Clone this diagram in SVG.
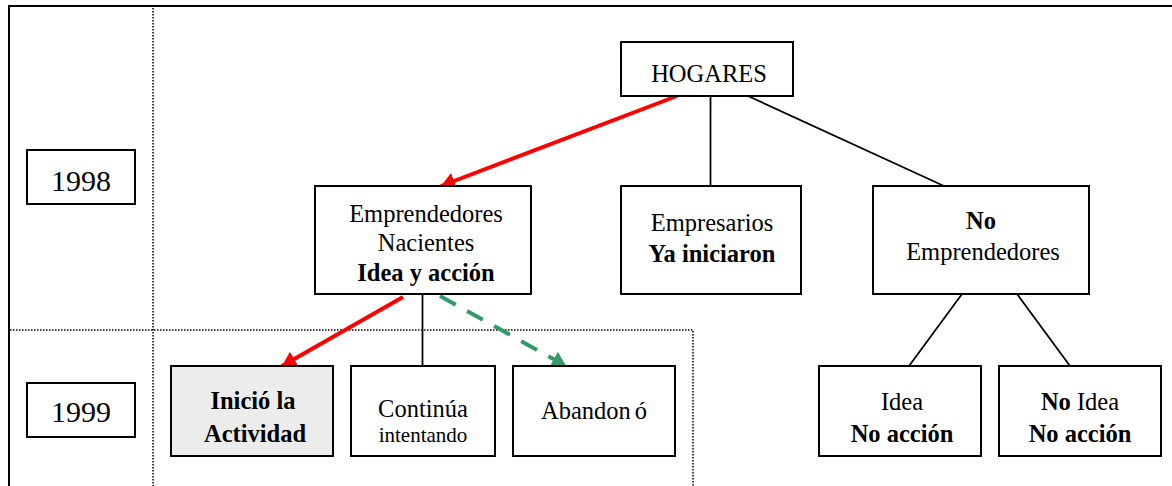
<svg xmlns="http://www.w3.org/2000/svg" width="1172" height="486" viewBox="0 0 1172 486">
<defs>
<style>
.box{fill:#fff;stroke:#000;stroke-width:2}
text{font-family:'Liberation Serif','Times New Roman',serif;font-size:24.5px;fill:#000;text-anchor:middle}
.b{font-weight:bold}
.yr{font-size:30px}
.sm{font-size:21px}
.dot{fill:none;stroke:#000;stroke-width:1.5;stroke-dasharray:1.5 1.5}
.ln{fill:none;stroke:#000;stroke-width:1.8}
</style>
<marker id="ar" viewBox="0 0 10 10" refX="10" refY="5" markerWidth="14" markerHeight="17" orient="auto" markerUnits="userSpaceOnUse" preserveAspectRatio="none"><path d="M0,0 L10,5 L0,10 z" fill="#ff0000"/></marker>
<marker id="ag" viewBox="0 0 10 10" refX="10" refY="5" markerWidth="14" markerHeight="17" orient="auto" markerUnits="userSpaceOnUse" preserveAspectRatio="none"><path d="M0,0 L10,5 L0,10 z" fill="#339966"/></marker>
</defs>
<rect width="1172" height="486" fill="#fff"/>
<g id="frame">
<path d="M8,6 H1172 M9,6 V486" fill="none" stroke="#000" stroke-width="2"/>
<path class="dot" d="M153,8 V486 M10,330 H693 V486"/>
</g>
<g id="connectors">
<path class="ln" d="M710.5,96 V186 M748,96 L944,186 M962,294 L909,366 M1017,294 L1070,366 M422.5,294 V366"/>
<path d="M677,96 L441,186" fill="none" stroke="#ff0000" stroke-width="4" marker-end="url(#ar)"/>
<path d="M403,297 L282,366" fill="none" stroke="#ff0000" stroke-width="4" marker-end="url(#ar)"/>
<path d="M440,296 L566,366" fill="none" stroke="#339966" stroke-width="4" stroke-dasharray="18 13" marker-end="url(#ag)"/>
</g>
<g id="y1998"><rect class="box" x="27" y="150" width="108" height="54"/><text class="yr" x="81" y="191">1998</text></g>
<g id="y1999"><rect class="box" x="27" y="383" width="108" height="54"/><text class="yr" x="81" y="422">1999</text></g>
<g id="hogares"><rect class="box" x="621" y="42" width="172" height="54"/><text x="709" y="82">HOGARES</text></g>
<g id="nacientes"><rect class="box" x="315" y="186" width="216" height="108"/><text x="426" y="222">Emprendedores</text><text x="426" y="251">Nacientes</text><text class="b" x="426" y="281">Idea y acción</text></g>
<g id="empresarios"><rect class="box" x="621" y="186" width="180" height="108"/><text x="712" y="231">Empresarios</text><text class="b" x="712" y="262">Ya iniciaron</text></g>
<g id="noemprendedores"><rect class="box" x="873" y="186" width="216" height="108"/><text class="b" x="981" y="229">No</text><text x="983" y="260">Emprendedores</text></g>
<g id="inicio"><rect class="box" x="171" y="366" width="162" height="90" style="fill:#ececec"/><text class="b" x="253" y="409">Inició la</text><text class="b" x="255" y="442">Actividad</text></g>
<g id="continua"><rect class="box" x="351" y="366" width="144" height="90"/><text x="423" y="417">Continúa</text><text class="sm" x="423" y="442">intentando</text></g>
<g id="abandono"><rect class="box" x="513" y="366" width="162" height="90"/><text x="594" y="419">Abandon<tspan dx="4">ó</tspan></text></g>
<g id="idea"><rect class="box" x="819" y="366" width="162" height="90"/><text x="902" y="410">Idea</text><text class="b" x="902" y="442">No acción</text></g>
<g id="noidea"><rect class="box" x="999" y="366" width="162" height="90"/><text x="1080" y="410"><tspan class="b">No</tspan> Idea</text><text class="b" x="1080" y="442">No acción</text></g>
</svg>
